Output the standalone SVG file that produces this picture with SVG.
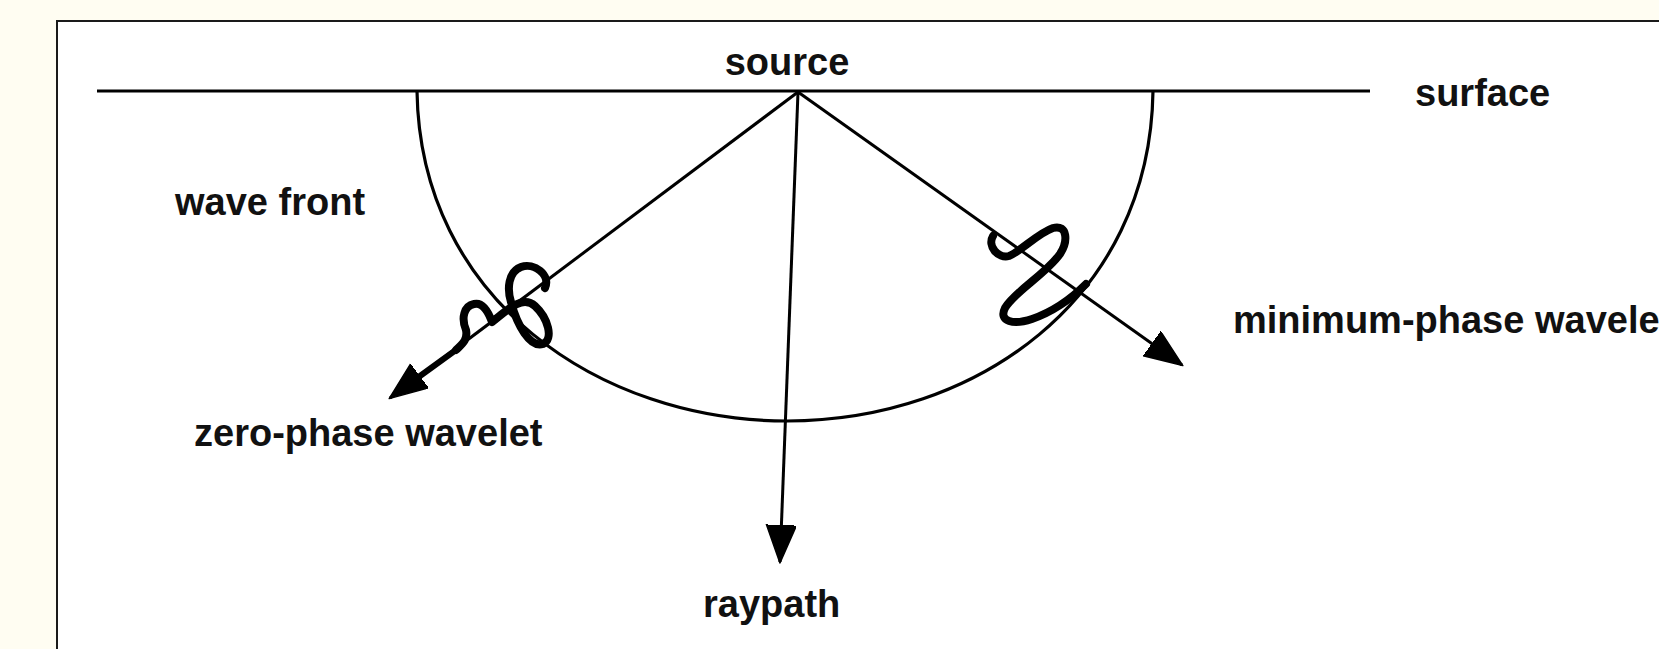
<svg xmlns="http://www.w3.org/2000/svg" width="1659" height="649" viewBox="0 0 1659 649">
  <style>
    .lbl { font-family: "Liberation Sans", Arial, sans-serif; font-weight: bold; font-size: 38px; fill: #111; }
    .ray { fill: none; stroke: #000; stroke-width: 3; }
    .wave { fill: none; stroke: #000; stroke-width: 8; stroke-linecap: round; stroke-linejoin: round; }
    .front { fill: none; stroke: #000; stroke-width: 3.2; }
  </style>
  <defs>
    <marker id="arrow" markerUnits="userSpaceOnUse" markerWidth="40" markerHeight="32" refX="37" refY="15" orient="auto">
      <path d="M0,0 L38,15 L0,30 Z" fill="#000" stroke="#000" stroke-width="1.5" stroke-linejoin="round"/>
    </marker>
  </defs>
  <rect x="0" y="0" width="1659" height="649" fill="#fffdf2"/>
  <rect id="frame" x="57" y="21" width="1640" height="660" fill="#ffffff" stroke="#1a1a1a" stroke-width="2"/>

  <g id="surface">
    <line x1="97" y1="91" x2="1370" y2="91" stroke="#000" stroke-width="3"/>
    <text class="lbl" x="1415" y="106">surface</text>
  </g>

  <g id="source">
    <text class="lbl" x="787" y="75" text-anchor="middle">source</text>
  </g>

  <g id="wave-front">
    <path class="front" d="M417,91 C420,300 600,421 787,421 C975,421 1150,300 1153,91"/>
    <text class="lbl" x="175" y="215">wave front</text>
  </g>

  <g id="zero-phase-wavelet">
    <path class="wave" d="M545,288 C551,275 534,262 521,267 C508,272 507,289 511,302 C517,325 530,348 543,344 C554,339 548,318 535,306 C522,294 505,312 492,322 C488,311 482,302 474,304 C464,306 461,318 466,330 C468,340 462,344 456,350"/>
    <text class="lbl" x="194" y="446">zero-phase wavelet</text>
  </g>

  <g id="minimum-phase-wavelet">
    <path class="wave" d="M993,236 C987,246 998,259 1009,256 C1020,252 1038,233 1053,228 C1068,224 1068,242 1060,254 C1046,274 1014,292 1005,308 C998,322 1014,325 1032,319 C1052,312 1070,300 1086,284"/>
    <text class="lbl" x="1233" y="333">minimum-phase wavelet</text>
  </g>

  <g id="raypath">
    <text class="lbl" x="703" y="617">raypath</text>
  </g>

  <g id="connectors">
    <line class="ray" x1="798" y1="92" x2="780" y2="562" marker-end="url(#arrow)"/>
    <line class="ray" x1="798" y1="92" x2="1182" y2="365" marker-end="url(#arrow)"/>
    <line class="ray" x1="798" y1="92" x2="390" y2="398" marker-end="url(#arrow)"/>
    <line x1="460" y1="347" x2="420" y2="376" stroke="#000" stroke-width="6" stroke-linecap="round"/>
  </g>
</svg>
